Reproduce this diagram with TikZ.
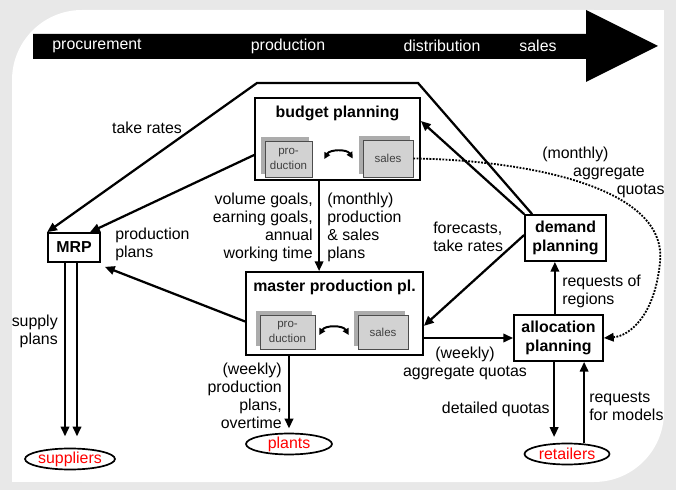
\documentclass[tikz,border=0pt]{standalone}
\usepackage{fontspec}
\setmainfont{Liberation Sans}
\usetikzlibrary{arrows.meta,shapes.geometric,shadows}

\tikzset{
  box/.style={draw, line width=1.2pt, fill=white, font=\fontsize{11.3}{14}\selectfont\bfseries},
  title/.style={inner sep=0pt, font=\fontsize{11.3}{14}\selectfont\bfseries},
  subbox/.style={draw=black!70, line width=0.4pt, fill=gray!35, text=black!75, align=center,
    font=\fontsize{8.2}{10.6}\selectfont,
    copy shadow={shadow xshift=-2.4pt, shadow yshift=2.4pt, fill=gray!65, draw=gray!65}},
  oval/.style={ellipse, draw, line width=1.2pt, text=red, inner sep=0pt},
  lbl/.style={inner sep=0pt},
  band/.style={inner sep=0pt, text=white},
  flow/.style={->, line width=1.6pt},
  dotflow/.style={->, line width=1.3pt, dash pattern=on 1.3pt off 1pt},
  swaparrow/.style={{Triangle[length=4.5pt,width=4.5pt]}-{Triangle[length=4.5pt,width=4.5pt]}, line width=1.4pt}
}

\begin{document}
\begin{tikzpicture}[x=0.025cm, y=-0.025cm, font=\fontsize{11.3}{12.8}\selectfont,
    >={Triangle[length=7pt,width=6pt]}]
  \useasboundingbox (0,0) rectangle (676,490);
  % 背景
  \fill[gray!18] (0,0) rectangle (676,490);
  \fill[white, rounded corners=1.75cm] (12,482) -- (12,10) -- (664,10) -- (664,482) -- cycle;
  \fill[white] (400,10) rectangle (664,200);
  \fill[white] (12,300) rectangle (300,482);

  % 矢印の帯
  \fill (33,34) -- (586,34) -- (586,10) -- (658,46) -- (586,82) -- (586,59) -- (33,59) -- cycle;
  \node[band] (procure) at (97,46) {procurement};
  \node[band] (produce) at (288,46) {production};
  \node[band] (distrib) at (442,46) {distribution};
  \node[band] (sell) at (538,46) {sales};

  % ノード
  \node[box, minimum width=4.125cm, minimum height=2.05cm] (budget) at (337.5,139) {};
  \node[title] (budgettitle) at (337.5,113) {budget planning};
  \node[subbox, minimum width=1.175cm, minimum height=0.9cm] (bprod) at (288.5,159) {pro-\\duction};
  \node[subbox, minimum width=1.25cm, minimum height=0.925cm] (bsales) at (388,158.5) {sales};

  \node[box, minimum width=4.425cm, minimum height=2.075cm] (master) at (334.5,313.5) {};
  \node[title] (mastertitle) at (334.5,287) {master production pl.};
  \node[subbox, minimum width=1.375cm, minimum height=0.85cm] (mprod) at (287.5,332) {pro-\\duction};
  \node[subbox, minimum width=1.25cm, minimum height=0.85cm] (msales) at (383,332) {sales};

  \node[box, minimum width=1.3cm, minimum height=0.725cm] (MRP) at (74,247.5) {MRP};
  \node[box, align=center, minimum width=2.025cm, minimum height=1.15cm] (demand) at (565.5,238) {demand\\planning};
  \node[box, align=center, minimum width=2.225cm, minimum height=1.15cm] (alloc) at (558.5,338) {allocation\\planning};

  \node[oval, minimum width=2cm, minimum height=0.525cm] (suppliers) at (70,459) {suppliers};
  \node[oval, minimum width=2.15cm, minimum height=0.5cm] (plants) at (289,444) {plants};
  \node[oval, minimum width=2.125cm, minimum height=0.525cm] (retailers) at (567,454) {retailers};

  % エッジ
  \coordinate (tr1) at (418,83);
  \coordinate (tr2) at (257,83);
  \draw[flow] ([xshift=0.2cm]demand.north west) -- (tr1) -- (tr2) -- (MRP.north west);
  \draw[flow] ([yshift=-0.4cm]budget.west) -- ([xshift=0.4cm]MRP.north);
  \draw[flow] ([yshift=-0.2cm]master.west) -- ([shift={(0.1cm,-0.1cm)}]MRP.south east);
  \draw[flow] ([xshift=-0.46cm]budget.south) -- ([xshift=-0.46cm]budget.south |- master.north);
  \draw[flow] (demand.north west) -- ([yshift=0.45cm]budget.east);
  \draw[flow] ([yshift=0.075cm]demand.west) -- ([yshift=-0.31cm]master.east);
  \draw[flow] (alloc.west -| master.east) -- (alloc.west);
  \draw[flow] ([xshift=-0.09cm]alloc.north) -- ([xshift=-0.09cm]alloc.north |- demand.south);
  \draw[flow, shorten >=4pt] ([xshift=-0.11cm]alloc.south) -- ([xshift=-0.11cm]alloc.south |- retailers.north);
  \draw[flow] ([xshift=0.64cm]alloc.south |- retailers.north) -- ([xshift=0.64cm]alloc.south);
  \draw[flow, shorten >=3pt] (plants.north |- master.south) -- (plants.north);
  \draw[flow, shorten >=8pt] ([xshift=-0.225cm]MRP.south) -- ([xshift=-0.225cm]MRP.south |- suppliers.north);
  \draw[flow, shorten >=8pt] ([xshift=0.075cm]MRP.south) -- ([xshift=0.075cm]MRP.south |- suppliers.north);
  \draw[dotflow] (bsales.east) .. controls (520,160) and (668,185) .. (660,262)
    .. controls (655,315) and (630,336) .. (alloc.east);
  \draw[swaparrow] ([xshift=0.3cm]bprod.east) to[bend left=60] ([xshift=-0.25cm]bsales.west);
  \draw[swaparrow] ([shift={(0.1cm,-0.075cm)}]mprod.east) to[bend left=60] ([shift={(-0.225cm,-0.075cm)}]msales.west);

  % ラベル
  \node[lbl] (takerates) at (147,128) {take rates};
  \node[lbl, anchor=west, align=left] (prodplans) at (115,244.5) {production\\plans};
  \node[lbl, anchor=east, align=right] (goals) at (313,227) {volume goals,\\earning goals,\\annual\\working time};
  \node[lbl, anchor=west, align=left] (monthly) at (327,227) {(monthly)\\production\\\& sales\\plans};
  \node[lbl, anchor=west, align=left] (forecasts) at (433,237) {forecasts,\\take rates};
  \node[lbl, anchor=west, align=left] (aggmonthly) at (542,172) {(monthly)\\\hspace*{22pt}aggregate\\\hspace*{53pt}quotas};
  \node[lbl, anchor=west, align=left] (regions) at (562,291) {requests of\\regions};
  \node[lbl, align=center] (aggweekly) at (465,363.5) {(weekly)\\aggregate quotas};
  \node[lbl, anchor=east, align=right] (weekly) at (282,395.5) {(weekly)\\production\\plans,\\overtime};
  \node[lbl, anchor=east, align=right] (supply) at (58,331) {supply\\plans};
  \node[lbl, anchor=east] (detailed) at (550,409) {detailed quotas};
  \node[lbl, anchor=west, align=left] (models) at (589,406) {requests\\for models};
\end{tikzpicture}
\end{document}
